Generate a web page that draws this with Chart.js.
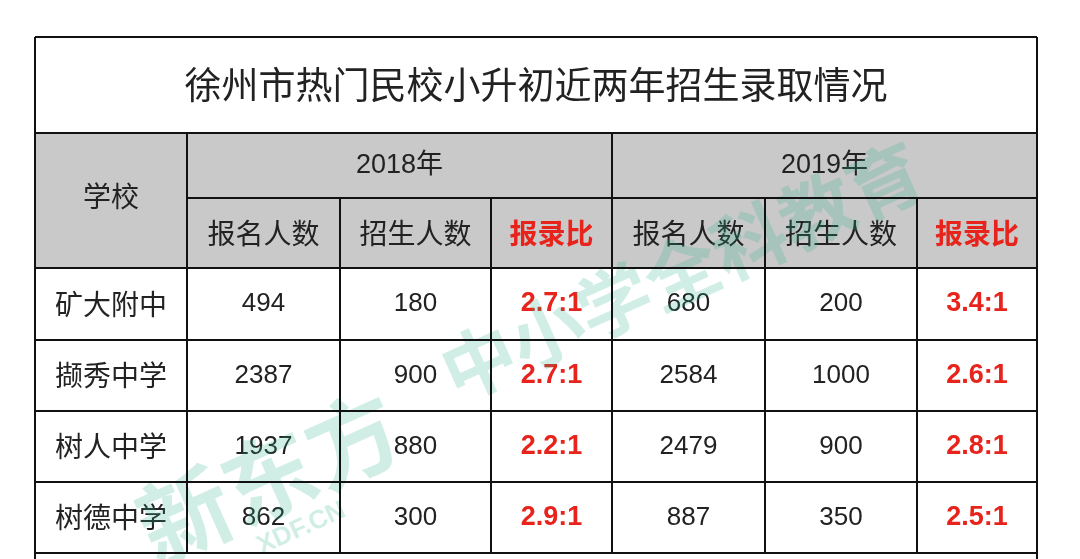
<!DOCTYPE html>
<html><head><meta charset="utf-8">
<script src="https://cdn.jsdelivr.net/npm/chart.js@4"></script>
<style>html,body{margin:0;padding:0;background:#fff}#c{display:block}</style>
</head><body>
<div style="width:1080px;height:559px"><canvas id="c"></canvas></div>
<script>
const title = "徐州市热门民校小升初近两年招生录取情况";
const years = ["2018年", "2019年"];
const subHeaders = ["报名人数", "招生人数", "报录比"];
const schools = ["矿大附中", "撷秀中学", "树人中学", "树德中学"];
const apply2018 = [494, 2387, 1937, 862];
const admit2018 = [180, 900, 880, 300];
const ratio2018 = ["2.7:1", "2.7:1", "2.2:1", "2.9:1"];
const apply2019 = [680, 2584, 2479, 887];
const admit2019 = [200, 1000, 900, 350];
const ratio2019 = ["3.4:1", "2.6:1", "2.8:1", "2.5:1"];

// layout grid (in scale units)
const colX = [35, 187, 340, 491, 612, 765, 917, 1037];
const rowY = [37, 133, 198, 268, 340, 411, 482, 553, 600];
const FONT = '"Helvetica Neue", "Liberation Sans", "Noto Sans CJK SC", sans-serif';
const CJK = '"Noto Sans CJK SC", sans-serif';

const tablePlugin = {
  id: 'table',
  afterDraw(chart) {
    const ctx = chart.ctx, xs = chart.scales.x, ys = chart.scales.y;
    const X = v => xs.getPixelForValue(v), Y = v => ys.getPixelForValue(v);
    ctx.save();
    ctx.fillStyle = '#c9c9c9';
    ctx.fillRect(X(colX[0]), Y(rowY[1]), X(colX[7]) - X(colX[0]), Y(rowY[3]) - Y(rowY[1]));
    const txt = (s, cx, cy, size, color, bold, fam) => {
      ctx.font = (bold ? 'bold ' : '') + size + 'px ' + (fam || FONT);
      ctx.fillStyle = color; ctx.textAlign = 'center'; ctx.textBaseline = 'middle';
      ctx.fillText(s, X(cx), Y(cy));
    };
    const mid = (a, i) => (a[i] + a[i + 1]) / 2;
    txt(title, (colX[0] + colX[7]) / 2, mid(rowY, 0), 37, '#222', false, CJK);
    txt("学校", mid(colX, 0), (rowY[1] + rowY[3]) / 2 - 4, 28, '#222', false, CJK);
    txt(years[0], (colX[1] + colX[4]) / 2, mid(rowY, 1), 27, '#222', false, FONT);
    txt(years[1], (colX[4] + colX[7]) / 2, mid(rowY, 1), 27, '#222', false, FONT);
    for (let k = 0; k < 6; k++) {
      const s = subHeaders[k % 3];
      const red = k % 3 === 2;
      txt(s, mid(colX, k + 1), mid(rowY, 2), 28, red ? '#e8231b' : '#222', red, CJK);
    }
    const cols = [apply2018, admit2018, ratio2018, apply2019, admit2019, ratio2019];
    schools.forEach((sc, r) => {
      const cy = mid(rowY, r + 3);
      txt(sc, mid(colX, 0), cy, 28, '#222', false, CJK);
      cols.forEach((arr, k) => {
        const red = k % 3 === 2;
        txt(String(arr[r]), mid(colX, k + 1), cy, red ? 27 : 26, red ? '#e8231b' : '#222', red, FONT);
      });
    });
    // watermark
    ctx.save();
    ctx.globalAlpha = 0.22;
    ctx.fillStyle = '#2bb38a';
    ctx.translate(X(440), Y(390));
    ctx.rotate(-0.42);
    ctx.font = 'bold 92px ' + CJK;
    ctx.textAlign = 'left'; ctx.textBaseline = 'middle';
    ctx.fillText("新东方", -330, 10);
    ctx.font = 'bold 74px ' + CJK;
    ctx.fillText("中小学全科教育", 10, -10);
    ctx.font = 'bold 26px ' + FONT;
    ctx.fillText("XDF.CN", -230, 70);
    ctx.restore();
    // grid lines
    ctx.strokeStyle = '#111'; ctx.lineWidth = 2;
    const line = (x1, y1, x2, y2) => { ctx.beginPath(); ctx.moveTo(X(x1), Y(y1)); ctx.lineTo(X(x2), Y(y2)); ctx.stroke(); };
    line(colX[0], rowY[0], colX[7], rowY[0]);
    for (let i = 1; i < rowY.length - 1; i++) {
      if (i === 2) line(colX[1], rowY[i], colX[7], rowY[i]);
      else line(colX[0], rowY[i], colX[7], rowY[i]);
    }
    line(colX[0], rowY[0], colX[0], 559);
    line(colX[7], rowY[0], colX[7], 559);
    for (let k = 1; k < 7; k++) {
      const top = (k === 4 || k === 1) ? rowY[1] : rowY[2];
      line(colX[k], top, colX[k], rowY[7]);
    }
    ctx.restore();
  }
};

new Chart(document.getElementById('c'), {
  type: 'scatter',
  data: { datasets: [{ data: [] }] },
  options: {
    responsive: true, maintainAspectRatio: false, animation: false,
    layout: { padding: 0 },
    plugins: { legend: { display: false }, tooltip: { enabled: false } },
    scales: {
      x: { type: 'linear', min: 0, max: 1080, display: false },
      y: { type: 'linear', min: 0, max: 559, reverse: true, display: false }
    }
  },
  plugins: [tablePlugin]
});
</script>
</body></html>
